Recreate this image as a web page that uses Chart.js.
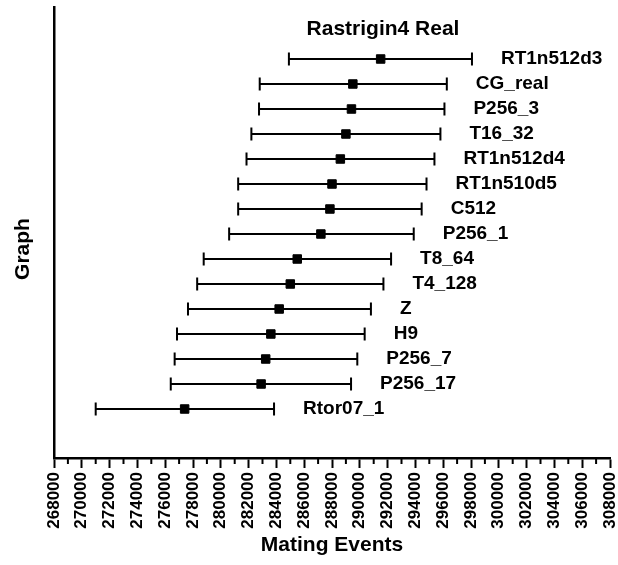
<!DOCTYPE html>
<html lang="en">
<head>
    <meta charset="UTF-8">
    <title>Rastrigin4 Real</title>
    <script src="https://cdn.jsdelivr.net/npm/chart.js"></script>
    <style>
        body { margin: 0; background: #ffffff; }
        #wrap { width: 618px; height: 565px; }
    </style>
</head>
<body>
    <div id="wrap"><canvas id="graph"></canvas></div>
    <script>
        // rows top to bottom
        const names = ['RT1n512d3', 'CG_real', 'P256_3', 'T16_32', 'RT1n512d4', 'RT1n510d5', 'C512', 'P256_1',
                       'T8_64', 'T4_128', 'Z', 'H9', 'P256_7', 'P256_17', 'Rtor07_1'];
        const means = [291500, 289500, 289400, 289000, 288600, 288000, 287850, 287200,
                       285500, 285000, 284200, 283600, 283230, 282900, 277400];
        const lows  = [284900, 282800, 282750, 282200, 281850, 281250, 281250, 280600,
                       278770, 278300, 277640, 276850, 276680, 276400, 271000];
        const highs = [298070, 296260, 296090, 295800, 295370, 294800, 294450, 293880,
                       292250, 291700, 290800, 290350, 289820, 289370, 283830];
        const xTicks = { min: 268000, max: 308000, step: 2000 };

        const FONT = "'Liberation Sans', Arial, sans-serif";
        const rowY = i => names.length - i;

        const errorBars = {
            id: 'errorBars',
            beforeDatasetsDraw(chart) {
                const { ctx, scales: { x, y } } = chart;
                ctx.save();
                ctx.strokeStyle = '#000';
                ctx.lineWidth = 2;
                names.forEach((n, i) => {
                    const py = y.getPixelForValue(rowY(i));
                    const x0 = x.getPixelForValue(lows[i]);
                    const x1 = x.getPixelForValue(highs[i]);
                    ctx.beginPath();
                    ctx.moveTo(x0, py); ctx.lineTo(x1, py);
                    ctx.moveTo(x0, py - 6.5); ctx.lineTo(x0, py + 6.5);
                    ctx.moveTo(x1, py - 6.5); ctx.lineTo(x1, py + 6.5);
                    ctx.stroke();
                });
                ctx.restore();
            },
            afterDatasetsDraw(chart) {
                const { ctx, scales: { x, y } } = chart;
                ctx.save();
                ctx.fillStyle = '#000';
                ctx.font = 'bold 19px ' + FONT;
                ctx.textBaseline = 'middle';
                ctx.textAlign = 'left';
                names.forEach((n, i) => {
                    ctx.fillText(n, x.getPixelForValue(highs[i]) + 29, y.getPixelForValue(rowY(i)));
                });
                // title sits inside the plot
                ctx.font = 'bold 21px ' + FONT;
                ctx.textAlign = 'center';
                ctx.fillText('Rastrigin4 Real', x.getPixelForValue(291670), y.getPixelForValue(16.2));
                // y axis title, a bit below the middle
                ctx.save();
                ctx.translate(23, 249);
                ctx.rotate(-Math.PI / 2);
                ctx.font = 'bold 21px ' + FONT;
                ctx.fillText('Graph', 0, 0);
                ctx.restore();
                // minor ticks between labelled ones
                ctx.strokeStyle = '#000';
                ctx.lineWidth = 2;
                const b = chart.chartArea.bottom;
                for (let v = xTicks.min + xTicks.step / 2; v < xTicks.max; v += xTicks.step) {
                    const px = x.getPixelForValue(v);
                    ctx.beginPath();
                    ctx.moveTo(px, b); ctx.lineTo(px, b + 6);
                    ctx.stroke();
                }
                ctx.restore();
            }
        };

        new Chart(document.getElementById('graph'), {
            type: 'scatter',
            data: {
                datasets: [{
                    data: means.map((m, i) => ({ x: m, y: rowY(i) })),
                    pointStyle: 'rect',
                    pointRadius: 6,
                    pointHoverRadius: 6,
                    backgroundColor: '#000',
                    borderColor: '#000',
                    borderWidth: 1
                }]
            },
            options: {
                responsive: true,
                maintainAspectRatio: false,
                animation: false,
                events: [],
                layout: { padding: { top: 7, right: 8, left: 0, bottom: 0 } },
                plugins: { legend: { display: false }, tooltip: { enabled: false } },
                scales: {
                    x: {
                        type: 'linear',
                        min: xTicks.min,
                        max: xTicks.max,
                        afterFit: s => { s.height = 107; s.paddingLeft = 0; s.paddingRight = 0; },
                        ticks: {
                            stepSize: xTicks.step,
                            autoSkip: false,
                            minRotation: 90,
                            maxRotation: 90,
                            padding: 4,
                            color: '#000',
                            font: { family: FONT, size: 17, weight: 'bold' },
                            callback: v => String(v)
                        },
                        grid: { drawOnChartArea: false, drawTicks: true, tickLength: 10, tickWidth: 2, tickColor: '#000' },
                        border: { display: true, color: '#000', width: 2.5 },
                        title: {
                            display: true,
                            text: 'Mating Events',
                            color: '#000',
                            font: { family: FONT, size: 21, weight: 'bold' },
                            padding: { top: 0, bottom: 7 }
                        }
                    },
                    y: {
                        type: 'linear',
                        min: -0.96,
                        max: 17.08,
                        afterFit: s => { s.width = 54; s.paddingTop = 0; s.paddingBottom = 0; },
                        ticks: { display: false },
                        grid: { drawOnChartArea: false, drawTicks: false },
                        border: { display: true, color: '#000', width: 2.5 },
                        title: { display: false }
                    }
                }
            },
            plugins: [errorBars]
        });
    </script>
</body>
</html>
